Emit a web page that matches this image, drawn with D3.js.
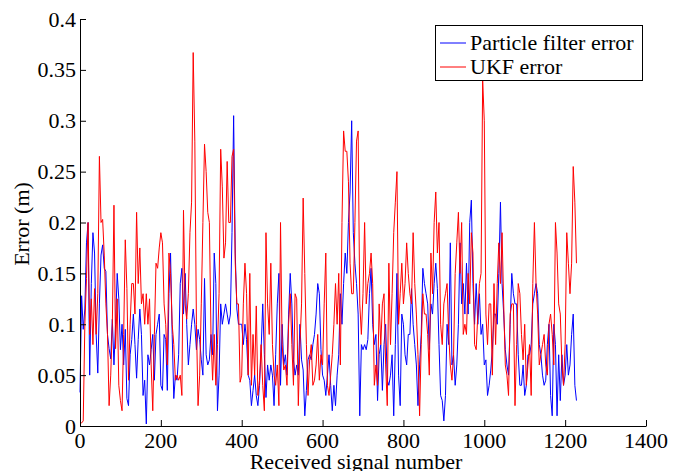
<!DOCTYPE html>
<html><head><meta charset="utf-8">
<script src="https://cdn.jsdelivr.net/npm/d3@7"></script>
</head>
<body style="margin:0"><svg id="chart" width="682" height="471"></svg>
<script>
// Received signal numbers (sampled every 4 signals)
const signalNumbers = d3.range(0, 1229, 4);
const xTicks = [0,200,400,600,800,1000,1200,1400];
const yTicks = [0,0.05,0.1,0.15,0.2,0.25,0.3,0.35,0.4];
const yTickLabels = ["0","0.05","0.1","0.15","0.2","0.25","0.3","0.35","0.4"];
const seriesNames = ["Particle filter error","UKF error"];
const particleError = [
.033,.128,.095,.115,.18,.2,.05,.14,.19,.17,.09,.052,.12,.168,.178,.155,.152,.09,.076,.066,.105,.06,.1,.15,.125,.075,.1,.06,.095,.027,.02,.07,.085,.11,.08,.047,.085,.115,
.09,.03,.045,.002,.07,.06,.075,.09,.045,.09,.1,.11,.04,.035,.09,.085,.035,.13,.17,.09,.027,.05,.045,.07,.14,.155,.11,.15,.1,.06,.08,.1,.115,.1,.075,.095,.085,.065,.05,.145,
.07,.06,.065,.09,.07,.17,.14,.015,.05,.12,.1,.11,.12,.11,.1,.11,.19,.305,.17,.115,.1,.1,.1,.08,.1,.085,.05,.045,.02,.035,.05,.03,.02,.04,.075,.12,.07,.028,.06,.045,
.06,.05,.02,.07,.12,.15,.04,.1,.06,.07,.05,.11,.15,.12,.065,.05,.06,.05,.1,.065,.055,.01,.035,.065,.07,.065,.08,.09,.11,.14,.13,.075,.05,.045,.03,.05,.07,.04,.015,
.04,.02,.05,.07,.13,.1,.14,.17,.15,.2,.23,.3,.19,.16,.14,.11,.01,.08,.075,.08,.075,.085,.13,.155,.1,.08,.09,.025,.07,.08,.035,.08,.1,.045,.04,.05,.07,.01,.08,.15,
.05,.02,.11,.1,.07,.06,.09,.09,.135,.1,.08,.06,.02,.06,.09,.155,.14,.13,.12,.075,.12,.11,.14,.16,.135,.08,.03,.025,.005,.03,.1,.08,.18,.06,.07,.04,.06,.1,.18,
.12,.14,.11,.16,.11,.2,.222,.14,.1,.14,.1,.13,.09,.1,.06,.065,.03,.04,.055,.075,.11,.11,.1,.15,.22,.14,.11,.075,.06,.05,.1,.15,.13,.12,.12,.07,.04,.04,.06,
.03,.04,.07,.07,.08,.12,.13,.14,.13,.08,.07,.05,.04,.045,.08,.1,.03,.01,.1,.08,.01,.07,.025,.07,.04,.05,.08,.05,.06,.09,.11,.04,.025
];
const ukfError = [
.003,.003,.005,.1,.145,.2,.09,.125,.08,.135,.09,.13,.265,.2,.203,.168,.12,.09,.02,.05,.1,.217,.076,.125,.04,.025,.015,.09,.183,.135,.045,.1,.14,.14,.11,.21,.14,.175,
.12,.13,.1,.13,.1,.125,.06,.015,.09,.16,.155,.175,.19,.18,.12,.1,.06,.17,.15,.1,.08,.045,.05,.045,.05,.03,.212,.12,.105,.13,.19,.22,.367,.28,.1,.02,.05,.12,.2,.277,
.25,.21,.2,.09,.045,.09,.04,.08,.13,.272,.235,.165,.18,.26,.2,.2,.265,.272,.16,.12,.12,.043,.05,.12,.16,.13,.05,.15,.04,.09,.05,.118,.03,.045,.08,.04,.015,.19,.12,.09,
.16,.08,.05,.04,.06,.02,.2,.08,.055,.06,.04,.1,.13,.08,.04,.13,.125,.02,.08,.12,.224,.15,.08,.03,.065,.08,.04,.045,.06,.09,.045,.07,.06,.12,.17,.04,.03,.05,.07,
.1,.14,.1,.15,.06,.2,.29,.27,.27,.24,.16,.13,.13,.2,.28,.29,.12,.09,.13,.2,.12,.14,.15,.17,.14,.04,.06,.04,.12,.08,.12,.13,.06,.02,.16,.08,.13,.19,.22,.25,
.1,.13,.16,.12,.14,.18,.15,.13,.12,.19,.14,.11,.07,.01,.08,.13,.11,.11,.09,.05,.17,.13,.2,.23,.17,.2,.1,.08,.12,.13,.14,.09,.06,.045,.07,.15,.18,.21,.15,
.2,.09,.1,.09,.15,.12,.19,.17,.08,.075,.11,.14,.15,.34,.3,.11,.08,.12,.12,.05,.14,.08,.14,.18,.14,.19,.12,.06,.05,.03,.11,.12,.12,.02,.08,.14,.13,.09,.065,
.1,.04,.06,.08,.03,.14,.2,.14,.11,.06,.07,.08,.09,.06,.05,.1,.11,.09,.06,.2,.17,.12,.11,.06,.04,.08,.19,.16,.13,.16,.255,.22,.16
];
const colors = ["#0000ff","#ff0000"];

const svg = d3.select("#chart");
const x = d3.scaleLinear().domain([0,1400]).range([80,646]);
const y = d3.scaleLinear().domain([0,0.4]).range([426,19]);
const FS = 22;
const FONT = "Liberation Serif";

const line = d3.line().x((d,i)=>x(signalNumbers[i])).y(d=>y(d));
[particleError, ukfError].forEach((s,k)=>{
  svg.append("path").datum(s).attr("d",line).attr("fill","none")
    .attr("stroke",colors[k]).attr("stroke-width",1);
});

// axes: lines from d3 axis generators, labels drawn as plain texts
const xAxis = svg.append("g").attr("transform","translate(0,426)")
  .call(d3.axisBottom(x).tickValues(xTicks).tickFormat("").tickSizeInner(-6).tickSizeOuter(0));
const yAxis = svg.append("g").attr("transform","translate(80,0)")
  .call(d3.axisLeft(y).tickValues(yTicks).tickFormat("").tickSizeInner(-6).tickSizeOuter(0));
[xAxis,yAxis].forEach(a=>{
  a.selectAll("path,line").attr("stroke","#000").attr("stroke-width",1);
  a.selectAll("text").remove();
});

function label(px, py, txt, anchor, rot){
  const t = svg.append("text").attr("font-family",FONT).attr("font-size",FS)
    .attr("text-anchor",anchor).attr("fill","#000").text(txt);
  if (rot) t.attr("transform",`translate(${px},${py}) rotate(${rot})`);
  else t.attr("x",px).attr("y",py);
  return t;
}
xTicks.forEach(v=>label(x(v), 448, String(v), "middle"));
yTicks.forEach((v,i)=>label(76, y(v)+7.5, yTickLabels[i], "end"));

label(356, 469, "Received signal number", "middle");
label(29, 224, "Error (m)", "middle", -90);

// Legend
svg.append("rect").attr("x",435.5).attr("y",25.5).attr("width",207).attr("height",55)
  .attr("fill","#fff").attr("stroke","#000").attr("stroke-width",1);
seriesNames.forEach((n,k)=>{
  const yy = 43 + k*24;
  svg.append("line").attr("x1",440).attr("x2",466).attr("y1",yy).attr("y2",yy).attr("stroke",colors[k]).attr("stroke-width",1);
  label(470, yy+7, n, "start");
});
</script></body></html>
